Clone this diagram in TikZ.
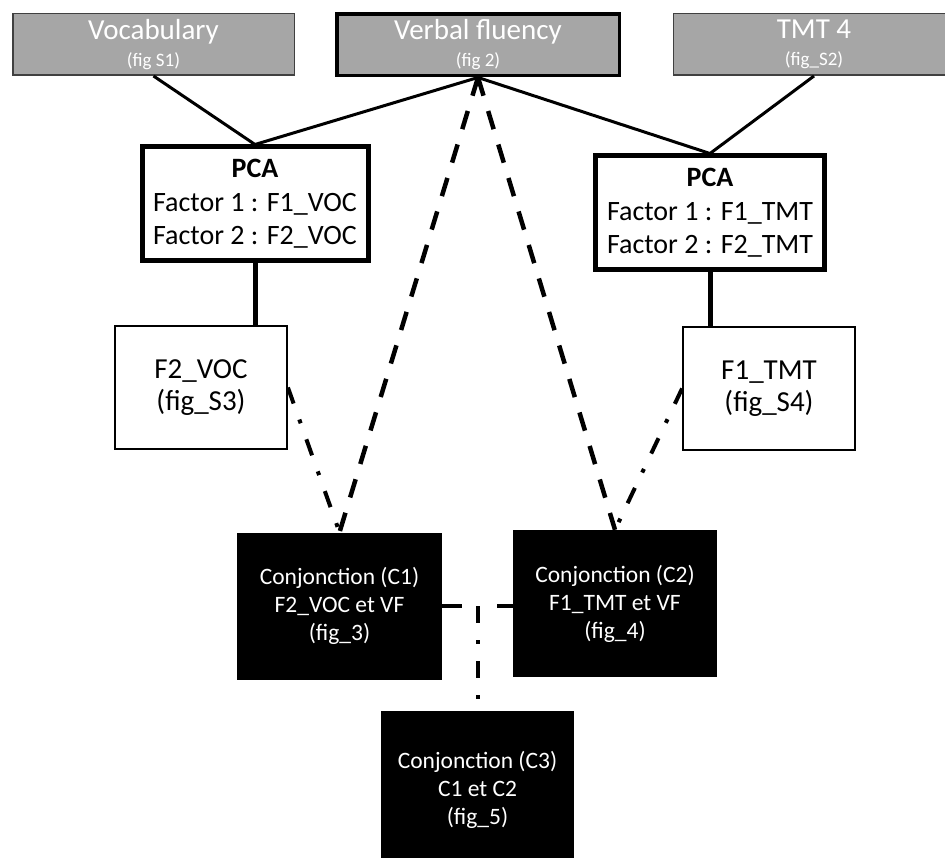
\documentclass[tikz,border=0pt]{standalone}
\usepackage{fontspec}
\setmainfont{Carlito}
\usetikzlibrary{calc}
\definecolor{boxgray}{HTML}{A6A6A6}
\definecolor{edgegray}{HTML}{404040}

\begin{document}
\begin{tikzpicture}[x=1pt,y=-1pt,
  topbox/.style={draw=edgegray,line width=1.5pt,fill=boxgray,text=white,inner sep=0pt,
    minimum height=61.5pt,align=center,font=\fontsize{29}{27}\selectfont},
  pcabox/.style={draw,line width=5pt,fill=white,inner sep=0pt,minimum width=226pt,
    minimum height=114pt,align=center,font=\fontsize{28}{33.5}\selectfont},
  figbox/.style={draw,line width=1.8pt,inner sep=0pt,minimum width=172pt,
    minimum height=123pt,align=center,font=\fontsize{29}{32}\selectfont},
  conjbox/.style={fill=black,text=white,inner sep=0pt,minimum width=205pt,
    minimum height=147pt,align=center,font=\fontsize{23.5}{28}\selectfont},
  link/.style={line width=3pt},
  stem/.style={line width=5pt},
  vfdash/.style={line width=4.5pt,dash pattern=on 19pt off 16pt},
  facdash/.style={line width=4pt,dash pattern=on 17pt off 17pt on 4pt off 17pt},
  middash/.style={line width=3.5pt,dash pattern=on 20pt off 35pt}]
  \useasboundingbox (0,0) rectangle (945,858);
  % Tests
  \node[topbox,minimum width=281.5pt] (voc) at (153.5,44.5)
    {Vocabulary\\{\fontsize{19}{19}\selectfont(fig S1)}};
  \node[topbox,minimum width=282.5pt,line width=3.5pt,draw=black] (vf) at (478,45)
    {Verbal fluency\\{\fontsize{19}{19}\selectfont(fig 2)}};
  \node[topbox,minimum width=281.5pt] (tmt) at (814,44.5)
    {TMT 4\\{\fontsize{19}{19}\selectfont(fig\_S2)}};
  % PCA boxes
  \node[pcabox] (pca1) at (255,204)
    {\textbf{PCA}\\Factor 1 : F1\_VOC\\Factor 2 : F2\_VOC};
  \node[pcabox,minimum width=229pt] (pca2) at (710,213)
    {\textbf{PCA}\\Factor 1 : F1\_TMT\\Factor 2 : F2\_TMT};
  % Factors kept
  \node[figbox] (f2voc) at (201,387.5) {F2\_VOC\\(fig\_S3)};
  \node[figbox] (f1tmt) at (769,388.5) {F1\_TMT\\(fig\_S4)};
  % Conjunctions
  \node[conjbox] (c1) at (339.5,606) {Conjonction (C1)\\F2\_VOC et VF\\(fig\_3)};
  \node[conjbox,minimum width=204pt] (c2) at (615,603.5) {Conjonction (C2)\\F1\_TMT et VF\\(fig\_4)};
  \node[conjbox,minimum width=193pt,minimum height=158pt] (c3) at (477.5,790)
    {Conjonction (C3)\\C1 et C2\\(fig\_5)};
  % Solid links
  \draw[link] (voc.south) -- (pca1.north);
  \draw[link] (vf.south) -- (pca1.north);
  \draw[link] (vf.south) -- (pca2.north);
  \draw[link] (tmt.south) -- (pca2.north);
  \draw[stem] (pca1.south) -- (pca1.south |- f2voc.north);
  \draw[stem] (pca2.south) -- (pca2.south |- f1tmt.north);
  % Dashed links
  \draw[vfdash] (vf.south) -- (c1.north);
  \draw[vfdash] (vf.south) -- (c2.north);
  \draw[facdash] (f2voc.east) -- (c1.north);
  \draw[facdash] (f1tmt.west) -- (c2.north);
  \draw[middash] (c1.east) -- (c1.east -| c2.west);
  \coordinate (mid) at ($(c1.east)!0.5!(c1.east -| c2.west)$);
  \draw[facdash] (mid) -- (mid |- c3.north);
\end{tikzpicture}
\end{document}
